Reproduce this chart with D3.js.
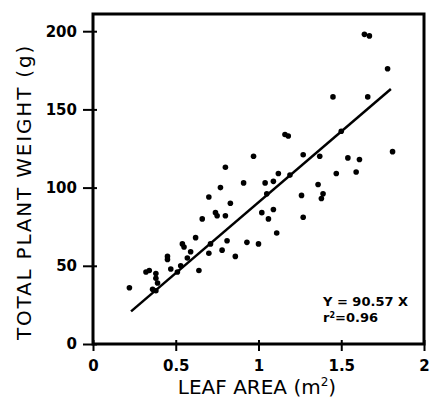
<!DOCTYPE html>
<html>
<head>
<meta charset="utf-8">
<script src="https://cdn.jsdelivr.net/npm/d3@7"></script>
<style>
  body { margin: 0; background: #fff; }
  text { font-family: "DejaVu Sans", sans-serif; fill: #000; }
</style>
</head>
<body>
<div id="chart"></div>
<script>
// leaf area (m^2) and total plant weight (g)
const leafArea = [
  1.64, 1.67, 1.78, 1.45, 1.66, 1.50, 1.81, 1.16, 1.18, 0.97,
  1.27, 1.37, 1.54, 1.61, 0.80, 1.12, 1.19, 1.47, 1.59, 0.91,
  1.04, 1.09, 0.77, 1.36, 0.70, 0.83, 1.05, 1.26, 1.39, 1.38,
  0.74, 0.75, 0.80, 0.66, 1.02, 1.09, 1.06, 1.27, 1.11, 0.81,
  0.93, 1.00, 0.78, 0.86, 0.22, 0.32, 0.34, 0.38, 0.38, 0.39,
  0.36, 0.38, 0.45, 0.45, 0.47, 0.51, 0.53, 0.54, 0.55, 0.59,
  0.57, 0.62, 0.64, 0.70, 0.71
];
const plantWeight = [
  198, 197, 176, 158, 158, 136, 123, 134, 133, 120,
  121, 120, 119, 118, 113, 109, 108, 109, 110, 103,
  103, 104, 100, 102, 94, 90, 96, 95, 96, 93,
  84, 82, 82, 80, 84, 86, 80, 81, 71, 66,
  65, 64, 60, 56, 36, 46, 47, 45, 42, 39,
  35, 34, 56, 54, 48, 46, 50, 64, 62, 59,
  55, 68, 47, 58, 64
];
const xTicks = [0, 0.5, 1, 1.5, 2];
const xTickLabels = ["0", "0.5", "1", "1.5", "2"];
const yTicks = [0, 50, 100, 150, 200];
const slope = 90.57;
const fitRange = [0.23, 1.8];
const fitLabel = "Y = 90.57 X";
const r2Label = "=0.96";

const width = 430, height = 399;
const frame = { left: 93, right: 424, top: 14, bottom: 344 };

const x = d3.scaleLinear().domain([0, 2]).range([frame.left, frame.right]);
const y = d3.scaleLinear().domain([0, 211]).range([frame.bottom, frame.top]);

const svg = d3.select("#chart").append("svg")
  .attr("width", width)
  .attr("height", height);

// x axis ticks cross the frame line a little
const xAxis = svg.append("g")
  .attr("transform", `translate(0,${frame.bottom - 4})`)
  .call(d3.axisBottom(x).tickValues(xTicks)
    .tickFormat((d, i) => xTickLabels[i])
    .tickSize(11).tickPadding(9));
xAxis.select(".domain").remove();
xAxis.selectAll("line").attr("stroke", "#000").attr("stroke-width", 2);
xAxis.selectAll("text")
  .attr("font-size", 15)
  .attr("font-weight", "bold");

const yAxis = svg.append("g")
  .attr("transform", `translate(${frame.left + 4},0)`)
  .call(d3.axisLeft(y).tickValues(yTicks).tickSize(14).tickPadding(6));
yAxis.select(".domain").remove();
yAxis.selectAll("line").attr("stroke", "#000").attr("stroke-width", 2);
yAxis.selectAll("text")
  .attr("font-size", 15)
  .attr("font-weight", "bold");

// frame
svg.append("rect")
  .attr("x", frame.left)
  .attr("y", frame.top)
  .attr("width", frame.right - frame.left)
  .attr("height", frame.bottom - frame.top)
  .attr("fill", "none")
  .attr("stroke", "#000")
  .attr("stroke-width", 3);

// regression line
svg.append("line")
  .attr("x1", x(fitRange[0]))
  .attr("y1", y(slope * fitRange[0]))
  .attr("x2", x(fitRange[1]))
  .attr("y2", y(slope * fitRange[1]))
  .attr("stroke", "#000")
  .attr("stroke-width", 2.5);

svg.append("g")
  .selectAll("circle")
  .data(leafArea)
  .join("circle")
  .attr("cx", (d) => x(d))
  .attr("cy", (d, i) => y(plantWeight[i]))
  .attr("r", 2.8)
  .attr("fill", "#000");

// equation
svg.append("text")
  .attr("x", 323)
  .attr("y", 306)
  .attr("font-size", 13)
  .attr("font-weight", "bold")
  .text(fitLabel);

const r2 = svg.append("text")
  .attr("x", 323)
  .attr("y", 322)
  .attr("font-size", 13)
  .attr("font-weight", "bold");
r2.append("tspan").text("r");
r2.append("tspan").attr("dy", -4).attr("font-size", 8).text("2");
r2.append("tspan").attr("dy", 4).text(r2Label);

// axis titles
const xTitle = svg.append("text")
  .attr("x", 257)
  .attr("y", 394)
  .attr("text-anchor", "middle")
  .attr("font-size", 20);
xTitle.append("tspan").text("LEAF AREA (m");
xTitle.append("tspan").attr("dy", -8).attr("font-size", 12).text("2");
xTitle.append("tspan").attr("dy", 8).text(")");

svg.append("text")
  .attr("transform", `translate(31,192) rotate(-90)`)
  .attr("text-anchor", "middle")
  .attr("font-size", 20)
  .attr("letter-spacing", 1.8)
  .text("TOTAL PLANT WEIGHT (g)");
</script>
</body>
</html>
